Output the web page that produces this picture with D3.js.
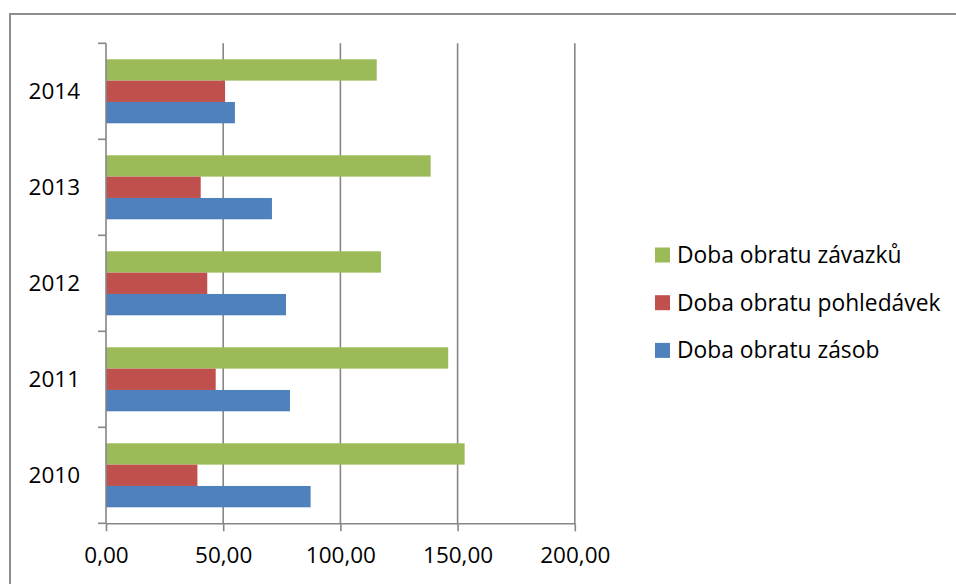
<!DOCTYPE html>
<html>
<head>
<meta charset="utf-8">
<script src="https://cdn.jsdelivr.net/npm/d3@7/dist/d3.min.js"></script>
<style>
  html, body { margin: 0; padding: 0; background: #fff; overflow: hidden; }
  svg { display: block; font-family: "Open Sans", Lato, sans-serif; }
</style>
</head>
<body>
<svg id="chart" width="956" height="584"></svg>
<script>
// Years shown on the category axis (bottom to top: 2010 … 2014)
const years = ["2010", "2011", "2012", "2013", "2014"];

// Series, in the order they are stacked inside each year (top to bottom)
const seriesNames = ["Doba obratu závazků", "Doba obratu pohledávek", "Doba obratu zásob"];
const seriesColors = ["#9BBB59", "#C0504D", "#4F81BD"];

// Values per series, aligned with `years`
const zavazky    = [153.0, 146.0, 117.3, 138.5, 115.5];
const pohledavky = [39.0, 46.8, 43.2, 40.4, 50.8];
const zasoby     = [87.3, 78.5, 76.8, 70.8, 55.0];

// Value axis ticks
const xTicks = [0, 50, 100, 150, 200];

const seriesValues = [zavazky, pohledavky, zasoby];

const svg = d3.select("#chart");

const plot = { left: 106, right: 574.8, top: 43.3, bottom: 523.3 };

const x = d3.scaleLinear().domain([0, 200]).range([plot.left, plot.right]);
const y = d3.scaleBand()
  .domain(years.slice().reverse())
  .range([plot.top, plot.bottom])
  .padding(0);
const inner = d3.scaleBand()
  .domain(seriesNames)
  .range([0, y.bandwidth()])
  .paddingInner(0)
  .paddingOuter(0.75);

const fmt = v => d3.format(".2f")(v).replace(".", ",");
const gridColor = "#868686";
const labelFont = "'Open Sans', Lato, sans-serif";

// Chart frame: top and left edges
const frame = svg.append("g")
  .attr("stroke", "#8e8e8e")
  .attr("stroke-width", 2);
frame.append("line").attr("x1", 10).attr("x2", 956).attr("y1", 14).attr("y2", 14);
frame.append("line").attr("x1", 10).attr("x2", 10).attr("y1", 13).attr("y2", 584);

// Vertical gridlines
svg.append("g")
  .selectAll("line")
  .data(xTicks.filter(d => d > 0))
  .join("line")
  .attr("x1", d => x(d)).attr("x2", d => x(d))
  .attr("y1", plot.top).attr("y2", plot.bottom)
  .attr("stroke", gridColor)
  .attr("stroke-width", 1.6);

// Bars
const rows = years.map((yr, i) => ({
  year: yr,
  values: seriesNames.map((s, k) => ({ series: s, color: seriesColors[k], value: seriesValues[k][i] }))
}));

const groups = svg.append("g")
  .selectAll("g")
  .data(rows)
  .join("g")
  .attr("transform", d => `translate(0,${y(d.year)})`);

groups.selectAll("rect")
  .data(d => d.values)
  .join("rect")
  .attr("x", x(0))
  .attr("y", d => inner(d.series))
  .attr("width", d => x(d.value) - x(0))
  .attr("height", inner.bandwidth())
  .attr("fill", d => d.color);

// Value axis (bottom)
const xAxis = svg.append("g")
  .attr("transform", `translate(0,${plot.bottom})`)
  .call(d3.axisBottom(x).tickValues(xTicks).tickFormat(fmt).tickSize(8).tickPadding(16).tickSizeOuter(0));
xAxis.select(".domain").attr("stroke", gridColor).attr("stroke-width", 1.6);
xAxis.selectAll(".tick line").attr("stroke", gridColor).attr("stroke-width", 1.6);
xAxis.selectAll(".tick text")
  .attr("fill", "#000")
  .attr("font-size", 22.5)
  .attr("font-family", labelFont);

// Category axis (left): labels centred in each band
const yAxis = svg.append("g")
  .attr("transform", `translate(${plot.left},0)`)
  .call(d3.axisLeft(y).tickSize(0).tickPadding(26));
yAxis.select(".domain").remove();
yAxis.selectAll(".tick text")
  .attr("fill", "#000")
  .attr("font-size", 22.5)
  .attr("font-family", labelFont);

// Category axis line with tick marks between the years
const boundaries = d3.range(years.length + 1).map(i => plot.top + i * y.step());
const yLine = svg.append("g");
yLine.append("line")
  .attr("x1", plot.left).attr("x2", plot.left)
  .attr("y1", plot.top).attr("y2", plot.bottom)
  .attr("stroke", gridColor).attr("stroke-width", 1.6);
yLine.selectAll("line.tk")
  .data(boundaries)
  .join("line")
  .attr("class", "tk")
  .attr("x1", plot.left - 8).attr("x2", plot.left)
  .attr("y1", d => d).attr("y2", d => d)
  .attr("stroke", gridColor).attr("stroke-width", 1.6);

// Legend
const legend = svg.append("g").attr("transform", "translate(655,255)");
const items = legend.selectAll("g")
  .data(seriesNames.map((s, k) => ({ name: s, color: seriesColors[k] })))
  .join("g")
  .attr("transform", (d, i) => `translate(0,${i * 47.7})`);
items.append("rect")
  .attr("x", 0).attr("y", -7.5)
  .attr("width", 15).attr("height", 15)
  .attr("fill", d => d.color);
items.append("text")
  .attr("x", 22).attr("y", 0)
  .attr("dy", "0.35em")
  .attr("font-size", 22.8)
  .attr("font-family", labelFont)
  .attr("fill", "#000")
  .text(d => d.name);
</script>
</body>
</html>
